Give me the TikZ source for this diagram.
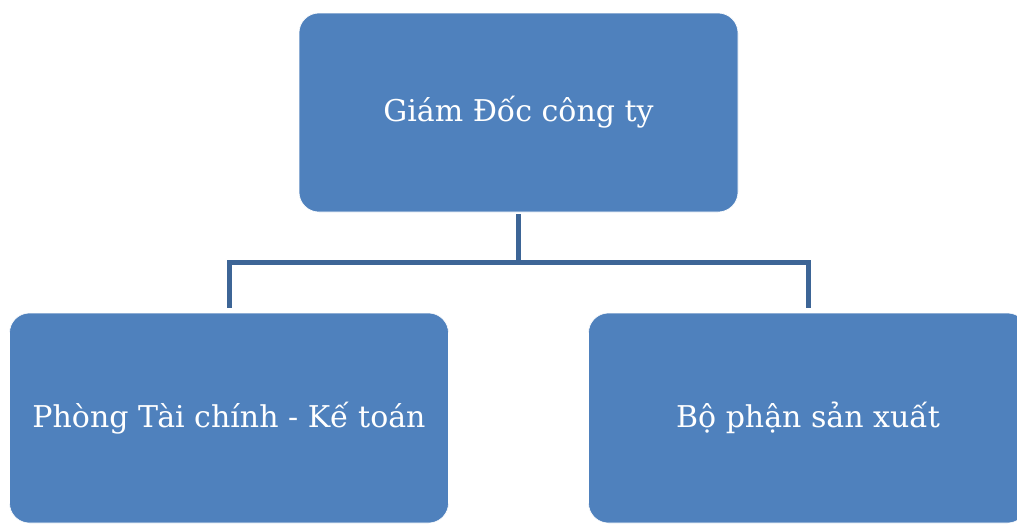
\documentclass[tikz,border=0pt]{standalone}
\usepackage{fontspec}
\setmainfont{DejaVu Serif}
\definecolor{boxblue}{HTML}{4F81BD}
\definecolor{linkblue}{HTML}{3D6596}
\tikzset{
  orgbox/.style={rectangle, rounded corners=20pt, fill=boxblue, draw=white, line width=0.6pt,
    minimum width=439pt, minimum height=199pt, inner sep=0pt,
    text=white, font=\fontsize{30}{34}\selectfont},
  lowbox/.style={orgbox, minimum height=210pt},
  conn/.style={draw=linkblue, line width=5pt}
}
\begin{document}
\begin{tikzpicture}[x=1pt,y=-1pt]
\clip (0,0) rectangle (1017,523);
\fill[white] (0,0) rectangle (1017,523);
\node[orgbox] (top) at (518.5,112.5) {Giám Đốc công ty};
\node[lowbox] (left) at (229,418) {Phòng Tài chính - Kế toán};
\node[lowbox] (right) at (808,418) {Bộ phận sản xuất};
\coordinate (bus) at (518.5,262);
\draw[conn, shorten <=2pt] (top.south) -- (bus);
\draw[conn, shorten >=5pt] (bus) -| (left.north);
\draw[conn, shorten >=5pt] (bus) -| (right.north);
\end{tikzpicture}
\end{document}
